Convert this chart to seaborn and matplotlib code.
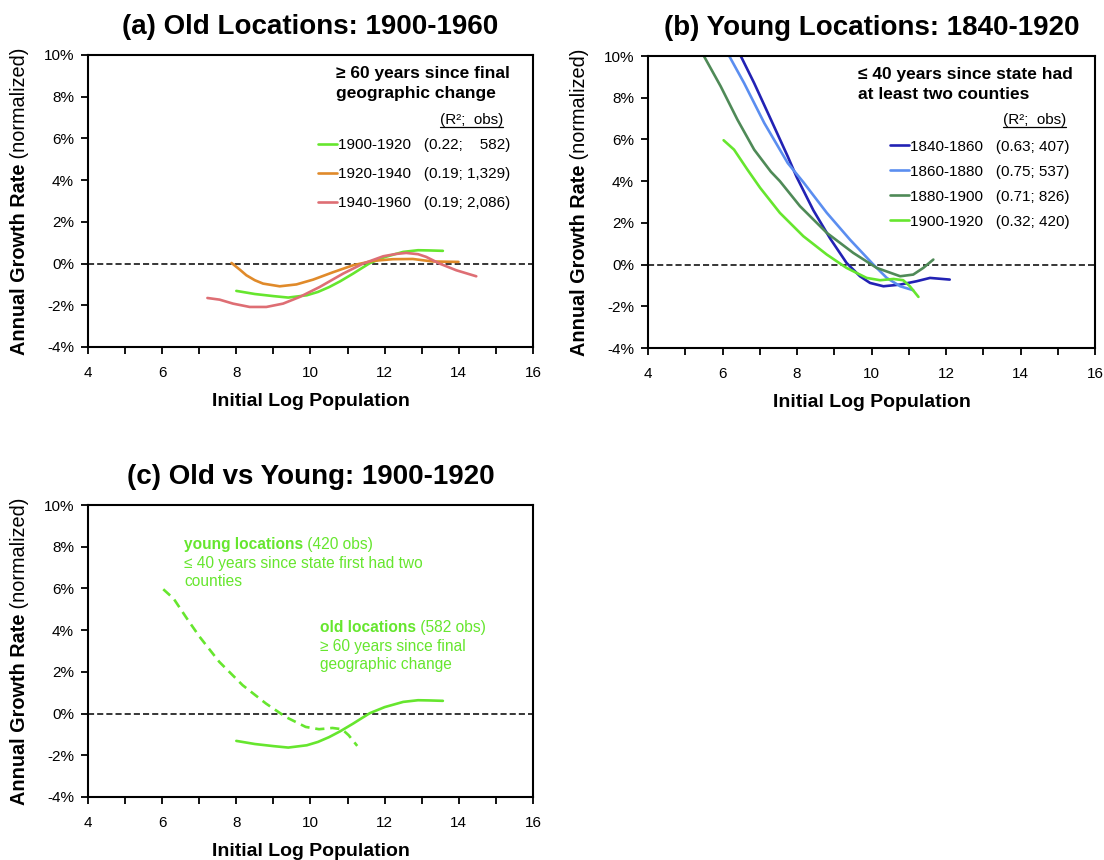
import matplotlib
matplotlib.use('Agg')
import matplotlib.pyplot as plt
import seaborn as sns
from matplotlib.lines import Line2D
from matplotlib.ticker import MultipleLocator, FuncFormatter

# ---------------- data ----------------
# Panel (a): old locations
old_periods = ["1900-1920", "1920-1940", "1940-1960"]
old_stats = ["(0.22;    582)", "(0.19; 1,329)", "(0.19; 2,086)"]
old_1900_x = [8.0, 8.5, 9.0, 9.4, 9.9, 10.2, 10.5, 10.8, 11.15, 11.4, 11.6, 12.0, 12.5, 12.9, 13.2, 13.57]
old_1900_y = [-1.31, -1.46, -1.56, -1.63, -1.52, -1.36, -1.13, -0.85, -0.48, -0.2, 0.02, 0.31, 0.56, 0.64, 0.63, 0.61]
old_1920_x = [7.87, 8.1, 8.27, 8.5, 8.72, 9.17, 9.62, 10.07, 10.6, 11.15, 11.69, 12.22, 12.76, 13.3, 13.99]
old_1920_y = [0.03, -0.3, -0.56, -0.8, -0.96, -1.09, -1.0, -0.77, -0.42, -0.08, 0.13, 0.21, 0.22, 0.1, 0.08]
old_1940_x = [7.22, 7.55, 7.91, 8.36, 8.81, 9.26, 9.71, 10.25, 10.88, 11.42, 11.96, 12.3, 12.58, 12.9, 13.12, 13.48, 13.93, 14.47]
old_1940_y = [-1.65, -1.73, -1.92, -2.08, -2.08, -1.92, -1.6, -1.12, -0.48, 0.0, 0.35, 0.46, 0.51, 0.45, 0.32, 0.0, -0.32, -0.61]

# Panel (b): young locations
young_periods = ["1840-1860", "1860-1880", "1880-1900", "1900-1920"]
young_stats = ["(0.63; 407)", "(0.75; 537)", "(0.71; 826)", "(0.32; 420)"]
young_1840_x = [6.35, 6.49, 6.85, 7.3, 7.75, 7.99, 8.44, 8.89, 9.33, 9.69, 9.96, 10.32, 10.77, 11.21, 11.57, 12.1]
young_1840_y = [10.6, 10.0, 8.7, 6.95, 5.19, 4.2, 2.6, 1.25, 0.08, -0.56, -0.88, -1.04, -0.96, -0.8, -0.64, -0.72]
young_1860_x = [6.0, 6.18, 6.58, 7.12, 7.75, 8.17, 8.8, 9.42, 10.05, 10.41, 10.77, 11.12]
young_1860_y = [10.6, 10.0, 8.7, 6.79, 4.87, 3.95, 2.48, 1.2, 0.0, -0.64, -1.04, -1.23]
young_1880_x = [5.38, 5.5, 5.95, 6.4, 6.85, 7.3, 7.54, 8.08, 8.8, 9.51, 10.14, 10.77, 11.12, 11.39, 11.66]
young_1880_y = [10.3, 10.0, 8.55, 6.95, 5.51, 4.45, 4.0, 2.8, 1.52, 0.56, -0.16, -0.56, -0.48, -0.16, 0.24]
young_1900_x = [6.03, 6.31, 6.67, 7.01, 7.54, 8.17, 8.8, 9.33, 9.87, 10.23, 10.59, 10.85, 11.03, 11.26]
young_1900_y = [5.96, 5.51, 4.55, 3.68, 2.48, 1.36, 0.48, -0.16, -0.64, -0.75, -0.69, -0.75, -1.04, -1.55]

y_ticks = [-4, -2, 0, 2, 4, 6, 8, 10]
x_ticks = [4, 6, 8, 10, 12, 14, 16]

# ---------------- style ----------------
sns.set_style('white')
plt.rcParams['font.family'] = ['Liberation Sans', 'DejaVu Sans']
plt.rcParams['text.color'] = 'black'
plt.rcParams['axes.labelcolor'] = 'black'
plt.rcParams['xtick.color'] = 'black'
plt.rcParams['ytick.color'] = 'black'

C_LIME = '#66E62E'
C_ORANGE = '#E08A2A'
C_PINK = '#DE6E74'
C_NAVY = '#2222B4'
C_LBLUE = '#5B8EF0'
C_DGREEN = '#4F8A57'
LW = 1.9

W, H = 1104, 860
fig = plt.figure(figsize=(W / 100, H / 100), dpi=100)


def px_axes(l, r, t, b):
    return fig.add_axes([l / W, 1 - b / H, (r - l) / W, (b - t) / H])


ax_a = px_axes(88, 533, 55, 347)
ax_b = px_axes(648, 1095, 56, 348)
ax_c = px_axes(88, 533, 505, 797)


def style(ax, title):
    ax.set_xlim(4, 16)
    ax.set_ylim(-4, 10)
    ax.set_xticks(x_ticks)
    ax.xaxis.set_minor_locator(MultipleLocator(1))
    ax.set_yticks(y_ticks)
    ax.yaxis.set_major_formatter(FuncFormatter(lambda v, p: f"{v:.0f}%"))
    for s in ax.spines.values():
        s.set_visible(True)
        s.set_color('black')
        s.set_linewidth(1.5)
    ax.tick_params(axis='both', which='both', direction='out', length=5, width=1.3,
                   colors='black', labelcolor='black', labelsize=11, bottom=True, left=True)
    ax.tick_params(axis='x', pad=9)
    ax.tick_params(axis='y', pad=5)
    ax.grid(False)
    ax.axhline(0, color='black', lw=1.1, ls=(0, (4, 2)), zorder=1)
    ax.set_title(title, fontsize=20, fontweight='bold', pad=15, color='black')
    ax.set_xlabel('Initial Log Population', fontsize=14, fontweight='bold', color='black')
    ax.xaxis.set_label_coords(0.5, -0.202)
    ax.xaxis.label.set_va('baseline')
    ax.set_ylabel('')
    t1 = ax.text(-0.153, -0.027, 'Annual Growth Rate', rotation=90, fontsize=14.3,
                 fontweight='bold', ha='center', va='bottom', transform=ax.transAxes,
                 color='black')
    ax.annotate(' (normalized)', xy=(0.5, 1), xycoords=t1, rotation=90, fontsize=14.3,
                ha='center', va='bottom', color='black')


# ---------------- panel (a) ----------------
old_series = [(old_1900_x, old_1900_y, C_LIME), (old_1920_x, old_1920_y, C_ORANGE),
              (old_1940_x, old_1940_y, C_PINK)]
for (xs, ys, c), per, st in zip(old_series, old_periods, old_stats):
    sns.lineplot(x=xs, y=ys, ax=ax_a, color=c, lw=LW, sort=False, estimator=None,
                 label=f"{per}   {st}")
style(ax_a, '(a) Old Locations: 1900-1960')
h, l = ax_a.get_legend_handles_labels()
ax_a.legend(h, l, loc='upper left', bbox_to_anchor=(0.517, 0.716), frameon=False,
            fontsize=11, handlelength=1.25, handletextpad=0.05, labelspacing=1.0,
            borderpad=0, borderaxespad=0)
ax_a.text(0.557, 0.921, '≥ 60 years since final', transform=ax_a.transAxes,
          fontsize=12.5, fontweight='bold', ha='left', va='baseline')
ax_a.text(0.557, 0.853, 'geographic change', transform=ax_a.transAxes,
          fontsize=12.5, fontweight='bold', ha='left', va='baseline')
r2_a = ax_a.text(0.933, 0.764, '(R²;  obs)', transform=ax_a.transAxes,
                 fontsize=11, ha='right', va='baseline')

# ---------------- panel (b) ----------------
young_series = [(young_1840_x, young_1840_y, C_NAVY), (young_1860_x, young_1860_y, C_LBLUE),
                (young_1880_x, young_1880_y, C_DGREEN), (young_1900_x, young_1900_y, C_LIME)]
for (xs, ys, c), per, st in zip(young_series, young_periods, young_stats):
    sns.lineplot(x=xs, y=ys, ax=ax_b, color=c, lw=LW, sort=False, estimator=None,
                 label=f"{per}   {st}")
style(ax_b, '(b) Young Locations: 1840-1920')
h, l = ax_b.get_legend_handles_labels()
ax_b.legend(h, l, loc='upper left', bbox_to_anchor=(0.541, 0.713), frameon=False,
            fontsize=11, handlelength=1.25, handletextpad=0.05, labelspacing=0.72,
            borderpad=0, borderaxespad=0)
ax_b.text(0.47, 0.921, '≤ 40 years since state had', transform=ax_b.transAxes,
          fontsize=12.5, fontweight='bold', ha='left', va='baseline')
ax_b.text(0.47, 0.853, 'at least two counties', transform=ax_b.transAxes,
          fontsize=12.5, fontweight='bold', ha='left', va='baseline')
r2_b = ax_b.text(0.935, 0.767, '(R²;  obs)', transform=ax_b.transAxes,
                 fontsize=11, ha='right', va='baseline')

# ---------------- panel (c) ----------------
sns.lineplot(x=old_1900_x, y=old_1900_y, ax=ax_c, color=C_LIME, lw=LW, sort=False,
             estimator=None)
sns.lineplot(x=young_1900_x, y=young_1900_y, ax=ax_c, color=C_LIME, lw=LW, sort=False,
             estimator=None, linestyle=(0, (3.5, 2.2)))
style(ax_c, '(c) Old vs Young: 1900-1920')
if ax_c.get_legend() is not None:
    ax_c.get_legend().remove()

tb = ax_c.text(0.216, 0.849, 'young locations', transform=ax_c.transAxes, fontsize=11.2,
               fontweight='bold', color=C_LIME, ha='left', va='baseline')
ax_c.annotate(' (420 obs)', xy=(1, 0), xycoords=tb, fontsize=11.2, color=C_LIME,
              ha='left', va='bottom')
ax_c.text(0.216, 0.784, '≤ 40 years since state first had two', transform=ax_c.transAxes,
          fontsize=11.2, color=C_LIME, ha='left', va='baseline')
ax_c.text(0.216, 0.722, 'counties', transform=ax_c.transAxes,
          fontsize=11.2, color=C_LIME, ha='left', va='baseline')

tb2 = ax_c.text(0.521, 0.565, 'old locations', transform=ax_c.transAxes, fontsize=11.2,
                fontweight='bold', color=C_LIME, ha='left', va='baseline')
ax_c.annotate(' (582 obs)', xy=(1, 0), xycoords=tb2, fontsize=11.2, color=C_LIME,
              ha='left', va='bottom')
ax_c.text(0.521, 0.501, '≥ 60 years since final', transform=ax_c.transAxes,
          fontsize=11.2, color=C_LIME, ha='left', va='baseline')
ax_c.text(0.521, 0.438, 'geographic change', transform=ax_c.transAxes,
          fontsize=11.2, color=C_LIME, ha='left', va='baseline')

# underline the (R²; obs) headers
fig.canvas.draw()
for ax, t, ybase in [(ax_a, r2_a, 0.764), (ax_b, r2_b, 0.767)]:
    bb = t.get_window_extent()
    inv = ax.transAxes.inverted()
    x0 = inv.transform((bb.x0, 0))[0]
    x1 = inv.transform((bb.x1, 0))[0]
    yl = ybase - 3.0 / 292
    fig.add_artist(Line2D([x0, x1], [yl, yl], transform=ax.transAxes, color='black', lw=0.9))

fig.savefig('out.png', dpi=100)
